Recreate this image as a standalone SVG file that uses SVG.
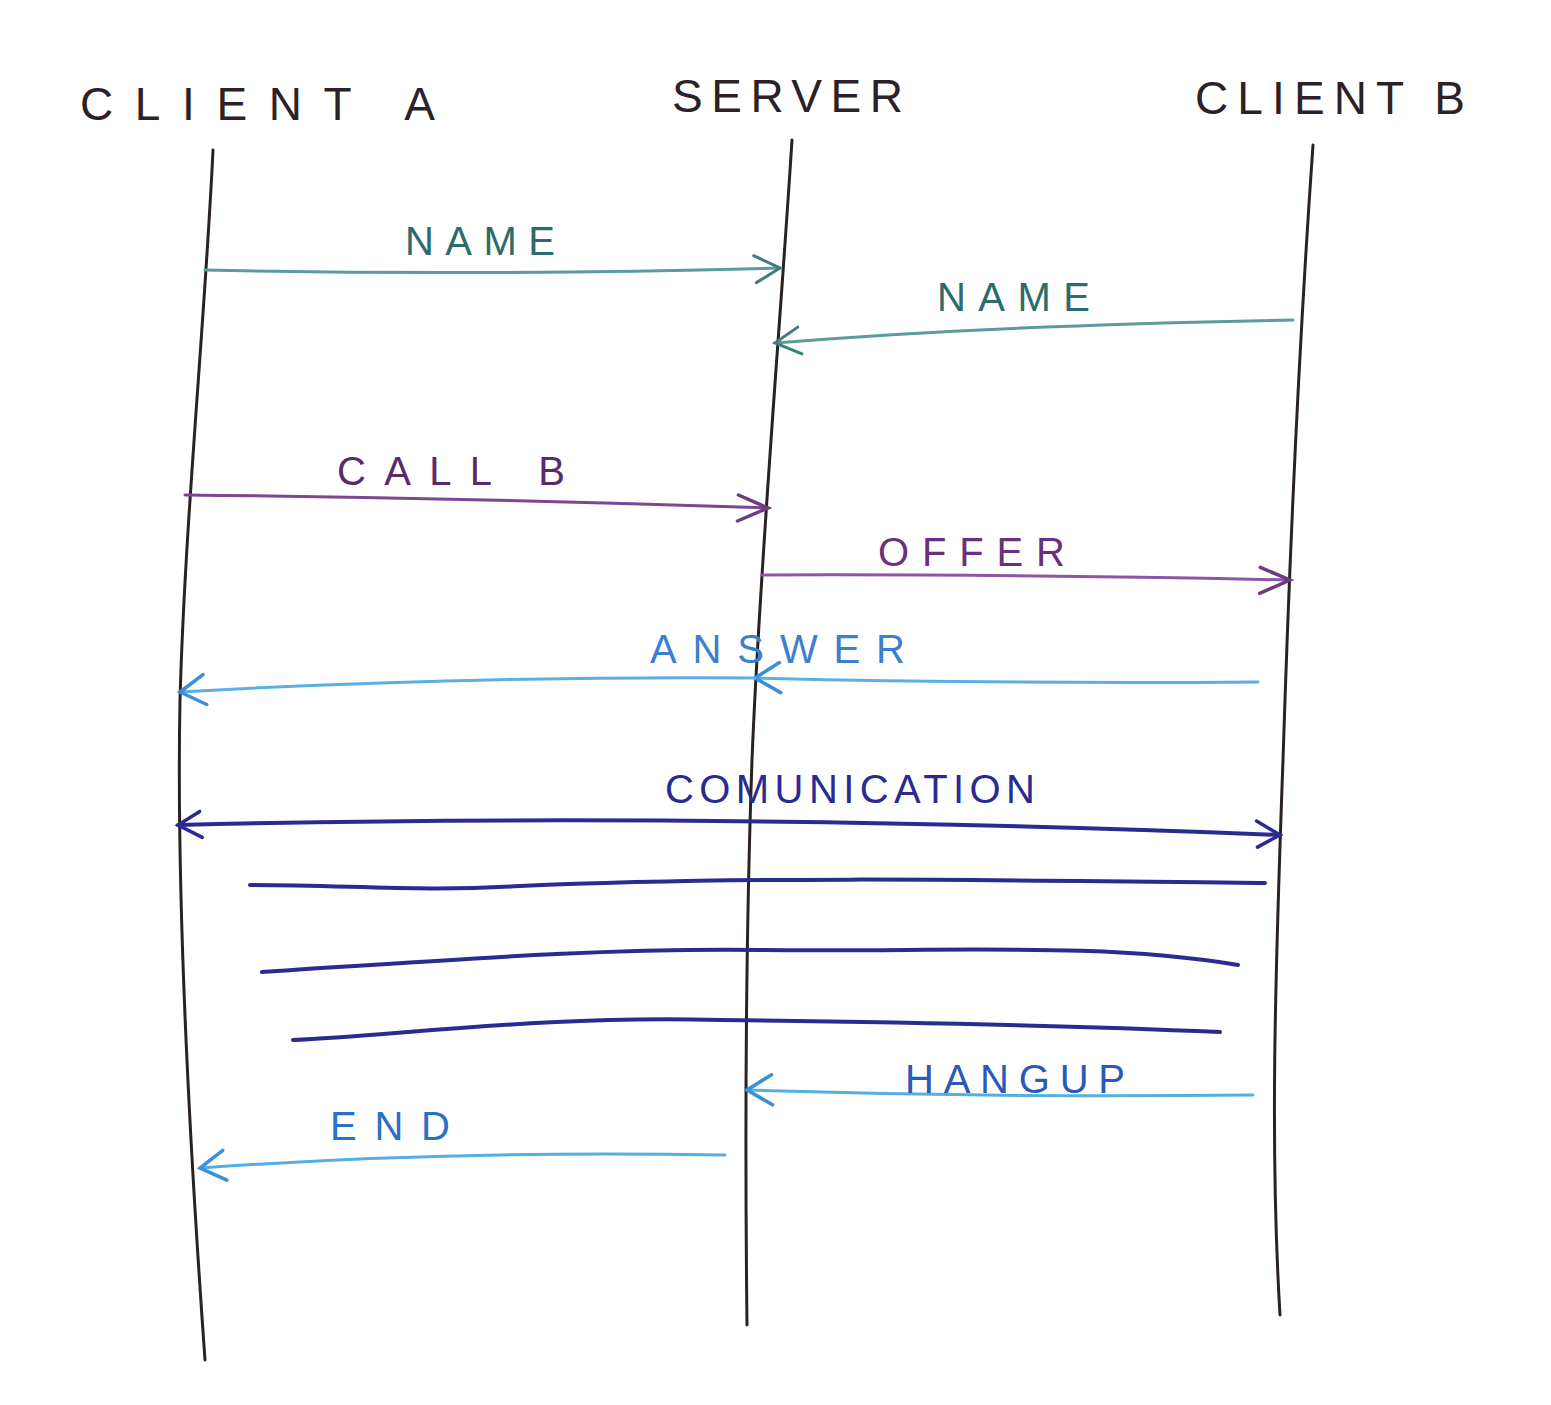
<svg xmlns="http://www.w3.org/2000/svg" width="1551" height="1405" viewBox="0 0 1551 1405">
<defs>
<style>
.life{fill:none;stroke:#2a2222;stroke-width:3;stroke-linecap:round}
.hdr{font-family:"Liberation Sans",Arial,sans-serif;font-size:46px;fill:#2a2226}
.lbl{font-family:"Liberation Sans",Arial,sans-serif;font-size:40px}
.msg{fill:none;stroke-width:3;stroke-linecap:round}
.comm{fill:none;stroke:#2b2a92;stroke-width:4;stroke-linecap:round}
</style>
<marker id="mTeal" markerUnits="userSpaceOnUse" markerWidth="60" markerHeight="60" viewBox="-40 -30 60 60" refX="0" refY="0" orient="auto-start-reverse"><path d="M-26,-13 L0,0 L-24,14" fill="none" stroke="#3f7f7e" stroke-width="3" stroke-linecap="round"/></marker>
<marker id="mPurple" markerUnits="userSpaceOnUse" markerWidth="60" markerHeight="60" viewBox="-40 -30 60 60" refX="0" refY="0" orient="auto-start-reverse"><path d="M-30,-12 L0,0 L-30,14" fill="none" stroke="#6e3a82" stroke-width="3.5" stroke-linecap="round"/></marker>
<marker id="mLight" markerUnits="userSpaceOnUse" markerWidth="60" markerHeight="60" viewBox="-40 -30 60 60" refX="0" refY="0" orient="auto-start-reverse"><path d="M-26,-14 L0,0 L-24,16" fill="none" stroke="#3a8fd6" stroke-width="3.5" stroke-linecap="round"/></marker>
<marker id="mDark" markerUnits="userSpaceOnUse" markerWidth="60" markerHeight="60" viewBox="-40 -30 60 60" refX="0" refY="0" orient="auto-start-reverse"><path d="M-24,-13 L0,0 L-22,13" fill="none" stroke="#2b2a92" stroke-width="3.5" stroke-linecap="round"/></marker>
</defs>
<rect width="1551" height="1405" fill="#ffffff"/>

<g id="clientA">
<text class="hdr" x="80" y="120" textLength="355" lengthAdjust="spacing">CLIENT  A</text>
<path class="life" d="M213,150 C205,320 185,520 180,700 C176,900 190,1150 205,1360"/>
</g>
<g id="server">
<text class="hdr" x="672" y="112" textLength="231" lengthAdjust="spacing">SERVER</text>
<path class="life" d="M792,140 C780,330 760,560 752,760 C745,960 745,1150 747,1325"/>
</g>
<g id="clientB">
<text class="hdr" x="1195" y="114" textLength="270" lengthAdjust="spacing">CLIENT B</text>
<path class="life" d="M1313,145 C1300,330 1290,540 1283,760 C1275,980 1270,1150 1280,1315"/>
</g>

<g id="connectors">
<path id="name1" class="msg" stroke="#5c9b9c" d="M205,270 Q480,276 780,268" marker-end="url(#mTeal)"/>
<path id="name2" class="msg" stroke="#5c9b9c" d="M1293,320 Q1000,325 775,343" marker-end="url(#mTeal)"/>
<path id="callb" class="msg" stroke="#7d4592" d="M185,495 Q470,498 768,508" marker-end="url(#mPurple)"/>
<path id="offer" class="msg" stroke="#8c55a6" d="M762,575 Q1000,574 1290,580" marker-end="url(#mPurple)"/>
<path id="answer1" class="msg" stroke="#5bb0e2" d="M1258,682 Q1000,684 755,678" marker-end="url(#mLight)"/>
<path id="answer2" class="msg" stroke="#5bb0e2" d="M755,678 Q460,676 180,692" marker-end="url(#mLight)"/>
<path id="communication" class="comm" d="M178,825 Q700,812 1280,835" marker-start="url(#mDark)" marker-end="url(#mDark)"/>
<path id="data1" class="comm" d="M250,885 C350,885 420,892 520,886 C750,876 1000,880 1265,883"/>
<path id="data2" class="comm" d="M262,972 C450,960 600,948 760,950 C950,952 1100,942 1238,965"/>
<path id="data3" class="comm" d="M293,1040 C400,1035 550,1015 720,1020 C900,1022 1080,1026 1220,1032"/>
<path id="hangup" class="msg" stroke="#55aee0" d="M1253,1095 Q1000,1098 747,1090" marker-end="url(#mLight)"/>
<path id="end" class="msg" stroke="#55aee0" d="M725,1155 Q450,1150 200,1168" marker-end="url(#mLight)"/>
</g>

<g id="labels">
<text class="lbl" fill="#2d6b6a" x="405" y="255" textLength="150" lengthAdjust="spacing">NAME</text>
<text class="lbl" fill="#2d6b6a" x="937" y="311" textLength="153" lengthAdjust="spacing">NAME</text>
<text class="lbl" fill="#5a2a6a" x="337" y="485" textLength="228" lengthAdjust="spacing">CALL  B</text>
<text class="lbl" fill="#6a3080" x="878" y="566" textLength="187" lengthAdjust="spacing">OFFER</text>
<text class="lbl" fill="#3a80d0" x="650" y="663" textLength="255" lengthAdjust="spacing">ANSWER</text>
<text class="lbl" fill="#2b2a92" x="665" y="803" font-size="36" textLength="370" lengthAdjust="spacing">COMUNICATION</text>
<text class="lbl" fill="#2a5ab8" x="905" y="1093" textLength="220" lengthAdjust="spacing">HANGUP</text>
<text class="lbl" fill="#2a70c8" x="330" y="1140" textLength="120" lengthAdjust="spacing">END</text>
</g>
</svg>
